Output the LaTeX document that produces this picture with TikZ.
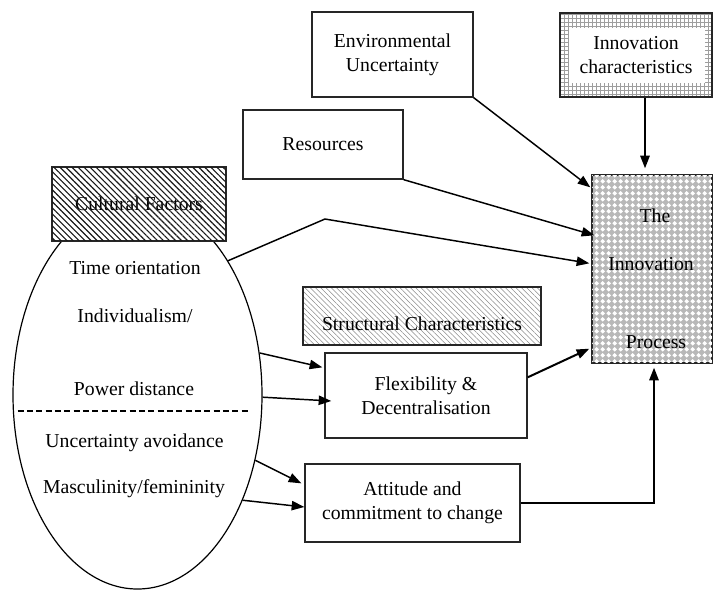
\documentclass[tikz,border=0pt]{standalone}
\usepackage{fontspec}
\setmainfont{Liberation Serif}
\usetikzlibrary{shapes.geometric,patterns,patterns.meta,arrows.meta,calc}

% white diamonds on a square grid
\pgfdeclarepatternformonly{wdiamonds}{\pgfqpoint{0pt}{0pt}}{\pgfqpoint{4.6pt}{4.6pt}}{\pgfqpoint{4.6pt}{4.6pt}}{%
  \pgfpathmoveto{\pgfqpoint{2.3pt}{0.3pt}}%
  \pgfpathlineto{\pgfqpoint{4.3pt}{2.3pt}}%
  \pgfpathlineto{\pgfqpoint{2.3pt}{4.3pt}}%
  \pgfpathlineto{\pgfqpoint{0.3pt}{2.3pt}}%
  \pgfpathclose\pgfusepath{fill}}

\begin{document}
\begin{tikzpicture}[x=0.75pt,y=-0.75pt,
  every node/.style={font=\fontsize{14.8}{18}\selectfont},
  box/.style={draw=black!85, line width=1pt, inner sep=0pt, align=center},
  arr/.style={line width=1.1pt, -{Triangle[length=9.5pt,width=7pt]}},
  thickarr/.style={arr, line width=1.5pt}]

\useasboundingbox (0,0) rectangle (714,590);

% cultural dimensions
\node[draw, line width=0.9pt, ellipse, minimum width=249*0.75pt, minimum height=388*0.75pt, inner sep=0pt] (cult) at (137.5,395) {};
\draw[line width=0.8pt, dash pattern=on 4.5pt off 2.5pt] ($(cult.center)+(-120,16)$) coordinate (dl) -- ($(cult.center)+(113,16)$) coordinate (dr);
\node[anchor=base] (d1) at (135,274) {Time orientation};
\node[anchor=base] (d2) at (135,322) {Individualism/};
\node[anchor=base] (d3) at (134,395) {Power distance};
\node[anchor=base] (d4) at (134.5,447) {Uncertainty avoidance};
\node[anchor=base] (d5) at (134,493) {Masculinity/femininity};

% heading box on top of the ellipse, hatched over its text
\node[box, fill=white, minimum width=174*0.75pt, minimum height=74*0.75pt] (cf) at (139,204) {Cultural Factors};
\fill[pattern={Lines[angle=-45,distance=3.2pt,line width=0.85pt]}, pattern color=black!90] (cf.south west) rectangle (cf.north east);
\draw[line width=1.1pt, draw=black!85] (cf.south west) rectangle (cf.north east);

% plain boxes
\node[box, minimum width=161*0.75pt, minimum height=85*0.75pt] (env) at (392.5,54.5) {Environmental\\Uncertainty};
\node[box, minimum width=160*0.75pt, minimum height=69*0.75pt] (res) at (323,144.5) {Resources};
\node[box, minimum width=202*0.75pt, minimum height=85*0.75pt] (flex) at (426,395.5) {Flexibility \&\\Decentralisation};
\node[box, minimum width=215*0.75pt, minimum height=78*0.75pt] (att) at (412.5,503) {Attitude and\\commitment to change};

% structural characteristics
\node[box, minimum width=238*0.75pt, minimum height=58*0.75pt,
  pattern={Lines[angle=-45,distance=2.8pt,line width=0.4pt]}, pattern color=black!45] (sc) at (422,316) {};
\node[anchor=base] (sctext) at (422,330) {Structural Characteristics};

% innovation characteristics: grid border band
\fill[pattern=grid, pattern color=black!38] (560,13) rectangle (712,97);
\fill[white] (569,28) rectangle (705,83);
\node[box, minimum width=152*0.75pt, minimum height=84*0.75pt] (ic) at (636,55) {Innovation\\characteristics};

% the innovation process
\node[box, minimum width=120*0.75pt, minimum height=188*0.75pt, fill=black!28,
  postaction={pattern=wdiamonds, pattern color=white}] (proc) at (652,269) {};
\node[anchor=base] (p1) at (655,222) {The};
\node[anchor=base] (p2) at (651,270) {Innovation};
\node[anchor=base] (p3) at (656,348) {Process};
\draw[line width=1pt, draw=black!85] (proc.south west) rectangle (proc.north east);

% connectors
\coordinate (bend) at (325,219);
\draw[arr] (env.south east) -- ($(proc.north west)+(-1,13)$);
\draw[arr] (res.south east) -- ($(proc.north west)+(3,61)$);
\draw[arr] (cult.56) -- (bend) -- ($(proc.north west)+(-2,89)$);
\draw[thickarr] ($(ic.south)+(9,0)$) -- ($(proc.north)+(-7,-6)$);
\draw[arr] (cult.19) -- ($(flex.north west)+(-2,15)$);
\draw[arr] (cult.-1) -- ($(flex.west)+(7,5.5)$);
\draw[arr] (cult.-29) -- ($(att.north west)+(-3,20)$);
\draw[arr] (cult.-45) -- ($(att.west)+(0,4)$);
\draw[thickarr] ($(flex.north east)+(0,25)$) -- ($(proc.south west)+(-2,-15)$);
\draw[thickarr] (att.east) -| ($(proc.south)+(2,4)$);

\end{tikzpicture}
\end{document}
